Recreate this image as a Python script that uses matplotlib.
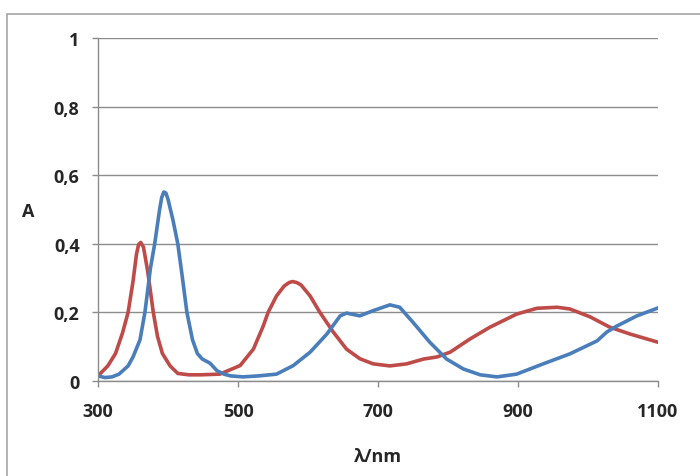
import matplotlib
matplotlib.use("Agg")
import matplotlib.pyplot as plt
from matplotlib.patches import Rectangle

# wavelength (nm) and absorbance values
blue_x = [300, 310, 320, 330, 343, 350, 360, 367, 375, 381, 388, 391, 394, 397, 400, 407, 414,
          420, 427, 435, 442, 449, 460, 470, 480, 489, 507, 530, 555, 579, 603, 627,
          646, 655, 674, 693, 717, 731, 750, 774, 798, 822, 846, 870, 898, 936, 974,
          1013, 1027, 1041, 1070, 1100]
blue_y = [0.015, 0.010, 0.012, 0.020, 0.044, 0.070, 0.120, 0.200, 0.330, 0.400, 0.500, 0.535, 0.551, 0.548, 0.530, 0.470, 0.400,
          0.310, 0.200, 0.120, 0.080, 0.064, 0.052, 0.030, 0.020, 0.015, 0.012, 0.015, 0.020, 0.045, 0.084, 0.137,
          0.190, 0.198, 0.190, 0.205, 0.222, 0.215, 0.171, 0.113, 0.064, 0.035, 0.018, 0.012, 0.020, 0.050, 0.079,
          0.117, 0.143, 0.160, 0.190, 0.213]

red_x = [300, 314, 325, 335, 343, 350, 355, 358, 361, 365, 371, 379, 385, 392, 403, 414,
         430, 446, 474, 503, 522, 536, 543, 555, 566, 573, 578, 584, 590, 603, 617, 636, 655,
         674, 693, 717, 741, 765, 784, 803, 831, 860, 898, 927, 956, 974, 1003, 1031,
         1060, 1100]
red_y = [0.015, 0.044, 0.080, 0.140, 0.200, 0.290, 0.370, 0.398, 0.404, 0.390, 0.320, 0.200, 0.130, 0.080, 0.044, 0.022,
         0.018, 0.018, 0.020, 0.045, 0.093, 0.160, 0.200, 0.248, 0.277, 0.287, 0.290, 0.287, 0.280, 0.248, 0.200, 0.143, 0.093,
         0.065, 0.050, 0.044, 0.050, 0.064, 0.070, 0.084, 0.122, 0.157, 0.195, 0.212, 0.215, 0.210, 0.187, 0.157,
         0.137, 0.113]

x_ticks = [300, 500, 700, 900, 1100]
y_ticks = [0, 0.2, 0.4, 0.6, 0.8, 1.0]
y_tick_labels = ["0", "0,2", "0,4", "0,6", "0,8", "1"]

FONT = ["Open Sans", "DejaVu Sans"]

fig = plt.figure(figsize=(7.0, 4.77), dpi=100)
fig.patches.append(Rectangle((7/700, -0.1), 1.2, (477-15)/477 + 0.1, transform=fig.transFigure,
                             fill=False, edgecolor="#a6a6a6", linewidth=1.2))
ax = fig.add_axes([98/700, 95/477, 560/700, 343/477])

ax.plot(red_x, red_y, color="#be4b48", linewidth=2.6, solid_capstyle="round", solid_joinstyle="round")
ax.plot(blue_x, blue_y, color="#4a7ebb", linewidth=2.6, solid_capstyle="round", solid_joinstyle="round")

ax.set_xlim(300, 1100)
ax.set_ylim(0, 1)
ax.set_xticks(x_ticks)
ax.set_xticklabels([str(v) for v in x_ticks])
ax.set_yticks(y_ticks)
ax.set_yticklabels(y_tick_labels)
ax.yaxis.grid(True, color="#8c8c8c", linewidth=1.0)
ax.set_axisbelow(True)
for s in ["top", "right"]:
    ax.spines[s].set_visible(False)
for s in ["left", "bottom"]:
    ax.spines[s].set_color("#8c8c8c")
    ax.spines[s].set_linewidth(1.0)
ax.tick_params(axis="both", direction="out", length=4.3, color="#8c8c8c", width=1.0,
               labelsize=13)
ax.tick_params(axis="y", pad=9)
ax.tick_params(axis="x", pad=11)
for lbl in ax.get_xticklabels() + ax.get_yticklabels():
    lbl.set_fontweight("bold")
    lbl.set_family(FONT)
    lbl.set_color("#262626")
ax.set_xlabel("λ/nm", fontsize=13, fontweight="bold", family=FONT, labelpad=19, color="#262626")
fig.text(28/700, 1 - 212/477, "A", fontsize=13, fontweight="bold", family=FONT,
         ha="center", va="center", color="#262626")

fig.savefig("out.png", dpi=100)
